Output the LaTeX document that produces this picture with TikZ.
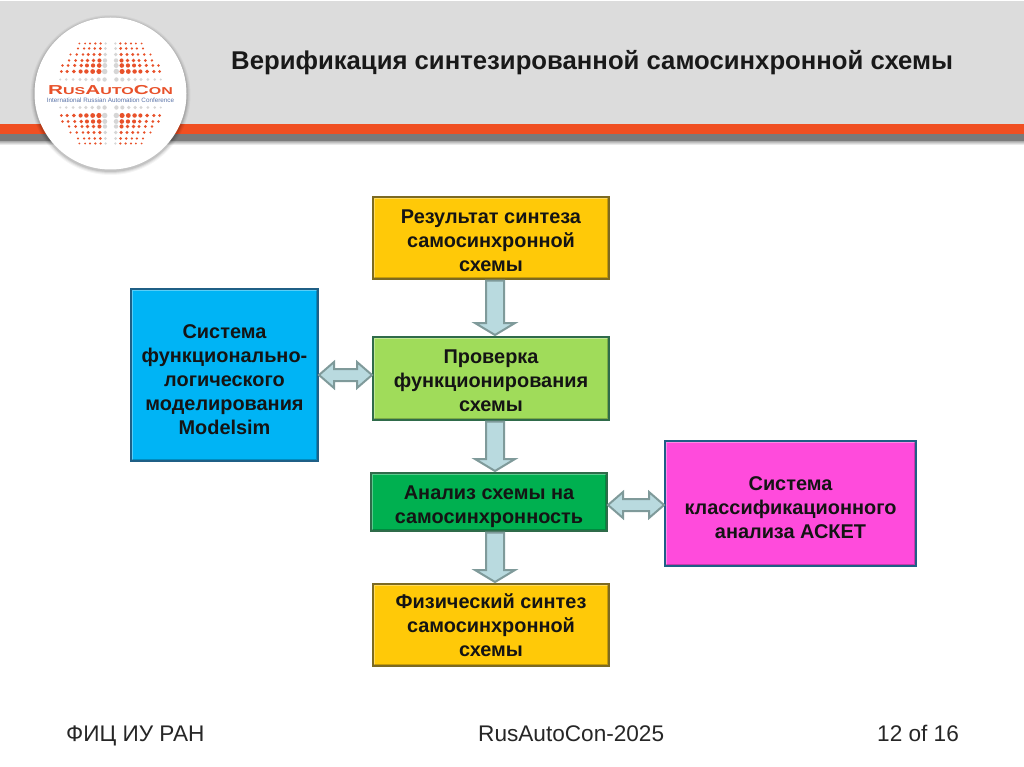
\documentclass[tikz,border=0pt]{standalone}
\usepackage{fontspec}
\setmainfont{Liberation Sans}
\newfontfamily\logofont[FakeStretch=1.6]{Liberation Sans Bold}
\usetikzlibrary{calc,shadings}
\definecolor{hdrgray}{HTML}{DCDCDC}
\definecolor{hdrorange}{HTML}{F04F22}
\definecolor{hdrdark}{HTML}{7A7A7A}
\definecolor{arrowfill}{HTML}{B9DADF}
\definecolor{arrowline}{HTML}{7F9A9A}
\definecolor{logored}{HTML}{E8512A}
\definecolor{logoblue}{HTML}{5B74A8}
\definecolor{edgeyellow}{HTML}{7C6A22}
\definecolor{edgegreen}{HTML}{2F6B4A}
\definecolor{edgeblue}{HTML}{1F5F86}
\definecolor{fillyellow}{HTML}{FFC908}
\definecolor{filllime}{HTML}{A0DC5A}
\definecolor{fillblue}{HTML}{00B4F5}
\definecolor{fillgreen}{HTML}{00B050}
\definecolor{fillmagenta}{HTML}{FF4BDC}
\tikzset{
  flowbox/.style={draw=#1,line width=2pt,inner sep=0pt,outer sep=0pt,align=center,anchor=north west,
    font=\fontsize{19.9}{24}\selectfont\bfseries,text=black!92,
    path picture={
      \draw[white,opacity=.35,line width=4pt] (path picture bounding box.south west)--(path picture bounding box.north west)--(path picture bounding box.north east);
      \draw[black,opacity=.22,line width=4pt] (path picture bounding box.north east)--(path picture bounding box.south east)--(path picture bounding box.south west);
    }},
  blockarrow/.style={draw=arrowline,fill=arrowfill,line width=2pt,line join=miter},
  footertext/.style={font=\fontsize{22.6}{26}\selectfont,text=black!85,anchor=base west,inner sep=0pt},
}
\newcommand{\lowertext}[1]{\rule{0pt}{#1pt}}
\newcommand{\vblock}[3]{% from, to, x-offset
  \coordinate (vs) at ($(#1.south)+(#3,1.5)$);
  \coordinate (ve) at (vs |- #2.north);
  \draw[blockarrow] ($(vs)+(-9,0)$) -- ($(vs)+(9,0)$) -- ($(ve)+(9,-14)$) -- ($(ve)+(20,-14)$)
    -- ($(ve)+(0,-2)$) -- ($(ve)+(-20,-14)$) -- ($(ve)+(-9,-14)$) -- cycle;
}
\newcommand{\hblock}[2]{% left coord, right coord
  \draw[blockarrow] ($(#1)+(1,0)$) -- ($(#1)+(16,-13)$) -- ($(#1)+(16,-6)$) -- ($(#2)+(-16,-6)$)
    -- ($(#2)+(-16,-13)$) -- ($(#2)+(-1,0)$) -- ($(#2)+(-16,13)$) -- ($(#2)+(-16,6)$)
    -- ($(#1)+(16,6)$) -- ($(#1)+(16,13)$) -- cycle;
}
\begin{document}
\begin{tikzpicture}[x=1pt,y=-1pt]
\useasboundingbox (0,0) rectangle (1024,767);
\fill[white] (0,0) rectangle (1024,767);
% header
\fill[hdrgray] (0,1) rectangle (1024,124);
\fill[hdrorange] (0,124) rectangle (1024,134);
\fill[hdrdark] (0,134) rectangle (1024,142);
\shade[top color=black!25,bottom color=white] (0,142) rectangle (1024,145);
% logo
\foreach \r/\o in {80/.04,79/.05,78/.07,77/.09}{\fill[black,opacity=\o] (110.5,95) circle (\r);}
\fill[white] (110.5,93.5) circle (76);
\foreach \yy/\sz in {14/2.3,22/2.9,28/2.6,33/2.3,39/2.0,45/1.7,50/1.4}{
  \foreach \xx in {6,12,18.5,25,31,38,45,51}{
    \pgfmathsetmacro{\px}{\xx*cos(\yy*0.7)}
    \pgfmathsetmacro{\inner}{(\xx<7||\yy<15)?1:0}
    \pgfmathsetmacro{\rad}{\sz*(1-\xx/110)}
    \ifnum\inner=1\relax
      \def\dotcol{black!16}
    \else
      \def\dotcol{logored}
    \fi
    \pgfmathparse{(\yy>30&&\xx>50)||(\yy>42&&\xx>44)||(\yy>48&&\xx>38)?1:0}
    \ifnum\pgfmathresult=0\relax
      \foreach \sx in {-1,1}{\foreach \sy in {-1,1}{
        \fill[\dotcol] (110.5+\sx*\px,93.5+\sy*\yy) circle (\rad);
      }}
    \fi
  }
}
\fill[white] (45,84) rectangle (176,104);
\node[inner sep=0pt,text=logored] (logoname) at (110.5,90.5) {\logofont\fontsize{13}{13}\selectfont R{\fontsize{10}{10}\selectfont US}A{\fontsize{10}{10}\selectfont UTO}C{\fontsize{10}{10}\selectfont ON}};
\node[inner sep=0pt,text=logoblue] (logosub) at (110.5,100.5) {\fontsize{6.3}{7}\selectfont International Russian Automation Conference};
% title
\node[anchor=base west,inner sep=0pt,text=black!90] (title) at (231,70) {\fontsize{25.7}{30}\selectfont\bfseries Верификация синтезированной самосинхронной схемы};
% boxes
\node[flowbox=edgeyellow,fill=fillyellow,minimum width=236pt,minimum height=82pt] (res) at (373,197) {\lowertext{18.3}Результат синтеза\\самосинхронной\\схемы};
\node[flowbox=edgegreen,fill=filllime,minimum width=236pt,minimum height=83pt] (check) at (373,337) {\lowertext{18.3}Проверка\\функционирования\\схемы};
\node[flowbox=edgeblue,fill=fillblue,minimum width=187pt,minimum height=172pt] (model) at (131,289) {\lowertext{22.3}Система\\функционально-\\логического\\моделирования\\Modelsim};
\node[flowbox=edgegreen,fill=fillgreen,minimum width=236pt,minimum height=58pt] (anal) at (371,473) {\lowertext{22.3}Анализ схемы на\\самосинхронность};
\node[flowbox=edgeblue,fill=fillmagenta,minimum width=251pt,minimum height=125pt] (acket) at (665,441) {\lowertext{22.3}Система\\классификационного\\анализа АСКЕТ};
\node[flowbox=edgeyellow,fill=fillyellow,minimum width=236pt,minimum height=82pt] (phys) at (373,584) {Физический синтез\\самосинхронной\\схемы};
% connectors
\vblock{res}{check}{4}
\vblock{check}{anal}{4}
\vblock{anal}{phys}{6}
\coordinate (ml) at (model.east);
\coordinate (mr) at (ml -| check.west);
\hblock{ml}{mr}
\coordinate (al) at ($(anal.east)+(0,3)$);
\coordinate (ar) at (al -| acket.west);
\hblock{al}{ar}
% footer
\node[footertext] (foot1) at (66,741) {ФИЦ ИУ РАН};
\node[footertext] (foot2) at (478,741) {RusAutoCon-2025};
\node[footertext] (foot3) at (877,741) {12 of 16};
\end{tikzpicture}
\end{document}
